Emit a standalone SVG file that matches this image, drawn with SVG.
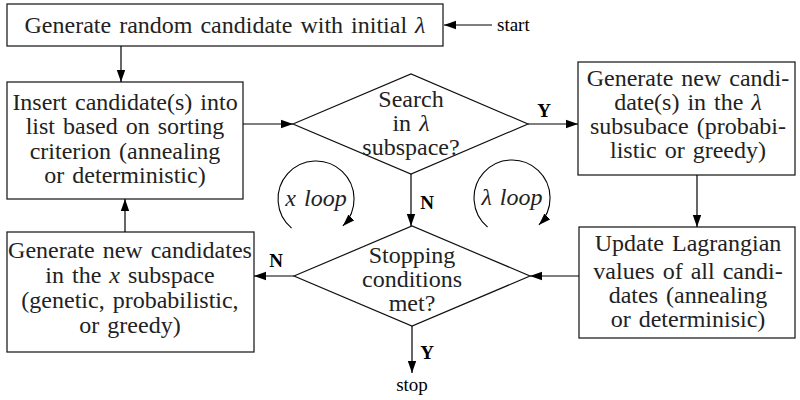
<svg xmlns="http://www.w3.org/2000/svg" width="800" height="400" viewBox="0 0 800 400" font-family="'Liberation Serif', 'Times New Roman', serif">
  <defs>
    <marker id="arrow" markerUnits="userSpaceOnUse" markerWidth="14" markerHeight="10" refX="12" refY="5" orient="auto">
      <path d="M0,0.8 L12,5 L0,9.2 Z" fill="#000"/>
    </marker>
    <style>
      .box { fill: #fff; stroke: #222; stroke-width: 1.3; }
      .dia { fill: #fff; stroke: #111; stroke-width: 1.2; }
      text.body { font-family: 'Liberation Serif', 'Times New Roman', serif; font-size: 24px; fill: #222; text-anchor: middle; word-spacing: 2px; }
      .it { font-style: italic; }
      text.yn { font-family: 'Liberation Serif', 'Times New Roman', serif; font-size: 19px; font-weight: bold; fill: #000; text-anchor: middle; }
      text.term { font-family: 'Liberation Serif', 'Times New Roman', serif; font-size: 19px; fill: #000; }
      .edge { fill: none; stroke: #000; stroke-width: 1.2; marker-end: url(#arrow); }
      .loop { fill: none; stroke: #000; stroke-width: 1.1; marker-end: url(#arrow); }
    </style>
  </defs>

  <!-- process boxes -->
  <g id="init">
    <rect class="box" x="7" y="4" width="436" height="42"/>
    <text class="body" x="225" y="33">Generate random candidate with initial <tspan class="it">λ</tspan></text>
  </g>

  <g id="insert">
    <rect class="box" x="7" y="82" width="236" height="117"/>
    <text class="body" x="125" y="110">Insert candidate(s) into</text>
    <text class="body" x="125" y="134">list based on sorting</text>
    <text class="body" x="125" y="159">criterion (annealing</text>
    <text class="body" x="125" y="183">or deterministic)</text>
  </g>

  <g id="search-lambda">
    <polygon class="dia" points="293,124 411,74 528,124 411,174"/>
    <text class="body" x="411" y="107">Search</text>
    <text class="body" x="411" y="131">in <tspan class="it">λ</tspan></text>
    <text class="body" x="411" y="155">subspace?</text>
  </g>

  <g id="gen-lambda">
    <rect class="box" x="578" y="62" width="217" height="113"/>
    <text class="body" x="688" y="86">Generate new candi-</text>
    <text class="body" x="688" y="110">date(s) in the <tspan class="it">λ</tspan></text>
    <text class="body" x="688" y="134">subsubace (probabi-</text>
    <text class="body" x="688" y="158">listic or greedy)</text>
  </g>

  <g id="update-lagrangian">
    <rect class="box" x="579" y="227" width="216" height="111"/>
    <text class="body" x="688" y="251">Update Lagrangian</text>
    <text class="body" x="688" y="279">values of all candi-</text>
    <text class="body" x="688" y="303">dates (annealing</text>
    <text class="body" x="688" y="327">or determinisic)</text>
  </g>

  <g id="stopping">
    <polygon class="dia" points="294,276 412,226 530,276 412,326"/>
    <text class="body" x="412" y="263">Stopping</text>
    <text class="body" x="412" y="287">conditions</text>
    <text class="body" x="412" y="311">met?</text>
  </g>

  <g id="gen-x">
    <rect class="box" x="7" y="232" width="247" height="120"/>
    <text class="body" x="130" y="258">Generate new candidates</text>
    <text class="body" x="130" y="283">in the <tspan class="it">x</tspan> subspace</text>
    <text class="body" x="130" y="308">(genetic, probabilistic,</text>
    <text class="body" x="130" y="333">or greedy)</text>
  </g>

  <!-- loop indicators -->
  <g id="x-loop">
    <path class="loop" d="M291.6,228.1 A38,38 0 1 1 342.9,225.9"/>
    <text class="body it" x="316" y="206">x loop</text>
  </g>
  <g id="lambda-loop">
    <path class="loop" d="M487.6,227.1 A38,38 0 1 1 538.9,224.9"/>
    <text class="body it" x="512" y="205">λ loop</text>
  </g>

  <!-- connectors -->
  <g id="connectors">
    <line class="edge" x1="492" y1="25" x2="444" y2="25"/>
    <text class="term" x="497" y="31">start</text>

    <line class="edge" x1="121" y1="46" x2="121" y2="82"/>
    <line class="edge" x1="243" y1="124" x2="293" y2="124"/>

    <line class="edge" x1="528" y1="124" x2="578" y2="124"/>
    <text class="yn" x="544" y="117">Y</text>

    <line class="edge" x1="697" y1="175" x2="697" y2="227"/>
    <line class="edge" x1="579" y1="276" x2="530" y2="276"/>

    <line class="edge" x1="411" y1="174" x2="411" y2="226"/>
    <text class="yn" x="427" y="209">N</text>

    <line class="edge" x1="294" y1="276" x2="254" y2="276"/>
    <text class="yn" x="276" y="267">N</text>

    <line class="edge" x1="125" y1="232" x2="125" y2="199"/>

    <line class="edge" x1="412" y1="326" x2="412" y2="373"/>
    <text class="yn" x="427" y="359">Y</text>
    <text class="term" x="412" y="391" text-anchor="middle">stop</text>
  </g>
</svg>
